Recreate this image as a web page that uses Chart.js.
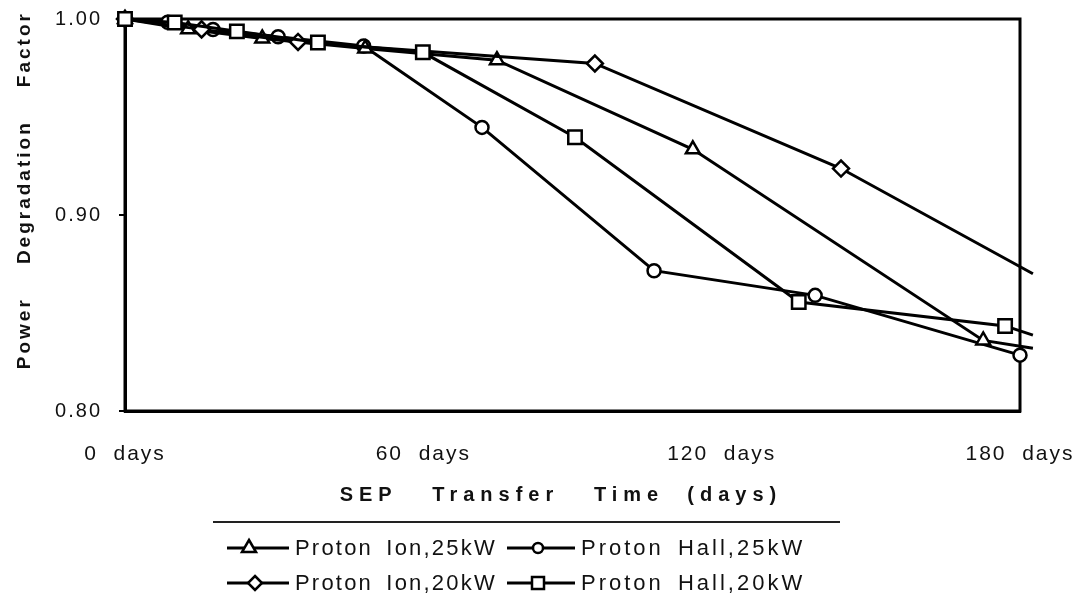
<!DOCTYPE html>
<html>
<head>
<meta charset="utf-8">
<script src="https://cdn.jsdelivr.net/npm/chart.js@4.4.1/dist/chart.umd.min.js"></script>
<style>
  html, body { margin:0; padding:0; background:#fff; }
  #wrap { position:relative; width:1085px; height:597px; }
  #c { position:absolute; left:0; top:0; }
  #legend { position:absolute; left:213px; top:521px; width:627px; height:76px;
            border-top:2px solid #222; font-family:"Liberation Sans", Arial, sans-serif;
            font-size:22px; letter-spacing:2.2px; word-spacing:5px; color:#111; }
  .item { position:absolute; display:flex; align-items:center; height:30px; white-space:nowrap; }
  .item svg { display:block; margin-right:2px; }
  .item.wide { letter-spacing:3px; }
</style>
</head>
<body>
<div id="wrap">
  <canvas id="c" width="1085" height="597"></canvas>
  <div id="legend"></div>
</div>
<script>
// ---- data ----
const xTickValues = [0, 60, 120, 180];
const yTickValues = [0.80, 0.90, 1.00];
const seriesNames = ["Proton Ion,25kW", "Proton Hall,25kW", "Proton Ion,20kW", "Proton Hall,20kW"];

const ion25Days   = [0, 12.7, 27.6, 48.3, 74.8, 114.2, 172.6, 182.6];
const ion25Factor = [1.000, 0.9948, 0.9901, 0.9850, 0.9790, 0.9335, 0.8360, 0.8320];

const hall25Days   = [0, 8.6, 17.7, 30.8, 48.0, 71.8, 106.4, 138.8, 180.0, 182.3];
const hall25Factor = [1.000, 0.9983, 0.9946, 0.9909, 0.9862, 0.9447, 0.8716, 0.8590, 0.8285, 0.8260];

const ion20Days   = [0, 15.4, 34.8, 94.5, 144.0, 182.6];
const ion20Factor = [1.000, 0.9947, 0.9883, 0.9773, 0.9237, 0.8700];

const hall20Days   = [0, 10.0, 22.5, 38.8, 59.9, 90.5, 135.5, 177.0, 182.6];
const hall20Factor = [1.000, 0.9982, 0.9937, 0.9880, 0.9830, 0.9397, 0.8556, 0.8434, 0.8387];

// ---- linear scale with letter-spaced text (like the typeset original) ----
class SpacedScale extends Chart.LinearScale {
  drawTitle() {
    const c = this.ctx; c.save();
    c.letterSpacing = this.options.titleSpacing || '0px';
    super.drawTitle(); c.restore();
  }
  drawLabels(area) {
    const c = this.ctx; c.save();
    c.letterSpacing = this.options.labelSpacing || '0px';
    super.drawLabels(area); c.restore();
  }
}
SpacedScale.id = 'spaced';
SpacedScale.defaults = Chart.LinearScale.defaults;
Chart.register(SpacedScale);

// ---- build chart ----
const FONT = '"Liberation Sans", Arial, Helvetica, sans-serif';
const pairs = (xs, ys) => xs.map((x, i) => ({x: x, y: ys[i]}));
const markerRadius = r => (ctx) => (ctx.raw && ctx.raw.x > 180.5) ? 0 : r;

function ds(label, xs, ys, style, r, order) {
  return {
    label: label,
    data: pairs(xs, ys),
    order: order,
    borderColor: '#000',
    borderWidth: 3,
    pointStyle: style,
    pointRadius: markerRadius(r),
    pointBackgroundColor: '#fff',
    pointBorderColor: '#000',
    pointBorderWidth: 2.5,
    tension: 0,
    clip: false,
    fill: false
  };
}

const datasets = [
  ds(seriesNames[0], ion25Days, ion25Factor, 'triangle', 8, 2),
  ds(seriesNames[1], hall25Days, hall25Factor, 'circle', 6.5, 3),
  ds(seriesNames[2], ion20Days, ion20Factor, 'rectRot', 8, 1),
  ds(seriesNames[3], hall20Days, hall20Factor, 'rect', 9.5, 0)
];

const framePlugin = {
  id: 'frame',
  beforeDatasetsDraw(chart) {
    const a = chart.chartArea, c = chart.ctx;
    c.save();
    c.strokeStyle = '#000';
    c.lineWidth = 3;
    c.strokeRect(a.left, a.top, a.right - a.left, a.bottom - a.top);
    c.restore();
  }
};

new Chart(document.getElementById('c'), {
  type: 'line',
  data: { datasets: datasets },
  options: {
    responsive: false,
    animation: false,
    events: [],
    layout: { padding: { left: 0, right: 65, top: 19, bottom: 90 } },
    plugins: { legend: { display: false }, tooltip: { enabled: false } },
    scales: {
      x: {
        type: 'spaced', min: 0, max: 180,
        labelSpacing: '2px', titleSpacing: '6px',
        afterBuildTicks: s => { s.ticks = xTickValues.map(v => ({value: v})); },
        afterFit: s => { s.height = 96; s.paddingLeft = 0; s.paddingRight = 0; },
        grid: { display: false },
        border: { display: true, color: '#000', width: 3 },
        ticks: { color: '#111', padding: 23, maxRotation: 0, autoSkip: false,
                 font: { family: FONT, size: 21 },
                 callback: v => v + '  days' },
        title: { display: true, text: 'SEP   Transfer   Time  (days)  ', color: '#111',
                 font: { family: FONT, size: 20, weight: 'bold' }, padding: { top: 3, bottom: 0 } }
      },
      y: {
        type: 'spaced', min: 0.8, max: 1.0,
        labelSpacing: '2px', titleSpacing: '3px',
        afterBuildTicks: s => { s.ticks = yTickValues.map(v => ({value: v})); },
        afterFit: s => { s.width = 125; s.paddingTop = 0; s.paddingBottom = 0; },
        grid: { display: true, drawOnChartArea: false, drawTicks: true, tickLength: 6, color: '#000', lineWidth: 2 },
        border: { display: true, color: '#000', width: 3 },
        ticks: { color: '#111', padding: 17, font: { family: FONT, size: 20 },
                 callback: v => v.toFixed(2) },
        title: { display: true, text: '      Power    Degradation    Factor', color: '#111',
                 font: { family: FONT, size: 19, weight: 'bold' }, padding: { top: 13, bottom: 0 } }
      }
    }
  },
  plugins: [framePlugin]
});

// ---- legend (HTML text, symbols as small SVGs) ----
const legendSpots = [
  {left: 10, top: 10, w: 70, wide: false}, {left: 290, top: 10, w: 76, wide: true},
  {left: 10, top: 45, w: 70, wide: false}, {left: 290, top: 45, w: 76, wide: true}
];
const symbols = ['tri', 'circle', 'diamond', 'square'];
function symbolSvg(kind, w) {
  let m = '';
  if (kind === 'tri') m = '<polygon points="24,5 31,17 17,17" fill="#fff" stroke="#000" stroke-width="2.5"/>';
  if (kind === 'circle') m = '<circle cx="33" cy="13" r="5" fill="#fff" stroke="#000" stroke-width="2.5"/>';
  if (kind === 'diamond') m = '<polygon points="30,6 37,13 30,20 23,13" fill="#fff" stroke="#000" stroke-width="2.5"/>';
  if (kind === 'square') m = '<rect x="27" y="7" width="12" height="12" fill="#fff" stroke="#000" stroke-width="2.5"/>';
  return '<svg width="' + w + '" height="26" viewBox="0 0 ' + (w - 4) + ' 26"><line x1="2" y1="13" x2="' + (w - 6) + '" y2="13" stroke="#000" stroke-width="3"/>' + m + '</svg>';
}
const leg = document.getElementById('legend');
seriesNames.forEach((name, i) => {
  const d = document.createElement('div');
  d.className = 'item' + (legendSpots[i].wide ? ' wide' : '');
  d.style.left = legendSpots[i].left + 'px';
  d.style.top = legendSpots[i].top + 'px';
  d.innerHTML = symbolSvg(symbols[i], legendSpots[i].w) + '<span>' + name + '</span>';
  leg.appendChild(d);
});
</script>
</body>
</html>
